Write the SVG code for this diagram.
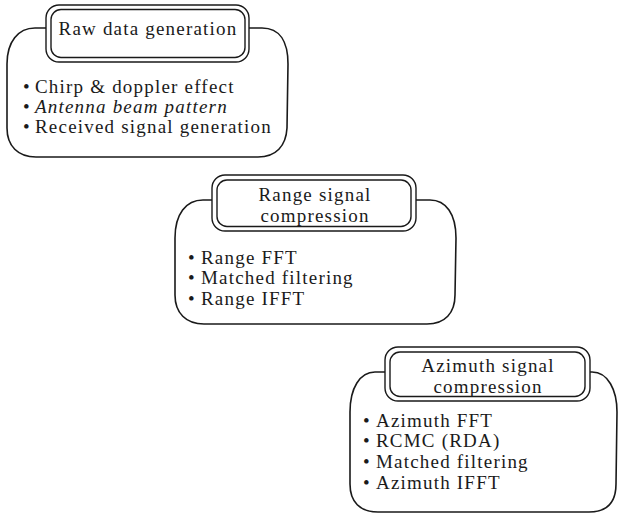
<svg xmlns="http://www.w3.org/2000/svg" width="619" height="518" viewBox="0 0 619 518">
<style>
.outer{fill:none;stroke:#1a1a1a;stroke-width:1.6}
.tb{fill:#fff;stroke:#1a1a1a;stroke-width:1.4}
.tbi{fill:none;stroke:#1a1a1a;stroke-width:1.4}
text{font-family:"Liberation Serif","Times New Roman",serif;font-size:19px;fill:#1a1a1a;letter-spacing:1.2px}
.t{text-anchor:middle}
.it{font-style:italic}
</style>
<rect width="619" height="518" fill="#fff"/>
<g id="raw">
<path class="outer" d="M35,28 C18,28 7,42 7,64 L7,128 C7,146 18,157 36,157 L258,157 C276,157 286,146 287,128 L288,64 C288,42 280,28 262,28 Z"/>
<rect class="tb" x="46" y="5" width="203" height="57" rx="13"/>
<rect class="tbi" x="51" y="9.5" width="194" height="48" rx="10"/>
<text class="t" x="148" y="35">Raw data generation</text>
<text x="23" y="93">•</text><text x="35" y="93">Chirp &amp; doppler effect</text>
<text x="23" y="113">•</text><text class="it" x="35" y="113">Antenna beam pattern</text>
<text x="23" y="133">•</text><text x="35" y="133">Received signal generation</text>
</g>
<g id="range">
<path class="outer" d="M203,200 C186,200 175,214 175,238 L175,295 C175,313 186,324 204,324 L427,324 C445,324 455,313 455,295 L456,238 C456,214 446,200 430,200 Z"/>
<rect class="tb" x="212" y="175" width="204" height="56" rx="13"/>
<rect class="tbi" x="217" y="180" width="194" height="46.5" rx="10"/>
<text class="t" x="315" y="201">Range signal</text>
<text class="t" x="315" y="222">compression</text>
<text x="188" y="264">•</text><text x="201" y="264">Range FFT</text>
<text x="188" y="284">•</text><text x="201" y="284">Matched filtering</text>
<text x="188" y="305">•</text><text x="201" y="305">Range IFFT</text>
</g>
<g id="azimuth">
<path class="outer" d="M375,372 C360,372 350,388 350,412 L350,484 C350,502 360,512 378,512 L589,512 C607,512 616,502 616,484 L617,412 C617,390 608,372 592,372 Z"/>
<rect class="tb" x="385" y="347" width="205" height="54" rx="13"/>
<rect class="tbi" x="390" y="352" width="195" height="44.5" rx="10"/>
<text class="t" x="488" y="372">Azimuth signal</text>
<text class="t" x="488" y="393">compression</text>
<text x="363" y="427">•</text><text x="376" y="427">Azimuth FFT</text>
<text x="363" y="447">•</text><text x="376" y="447">RCMC (RDA)</text>
<text x="363" y="468">•</text><text x="376" y="468">Matched filtering</text>
<text x="363" y="489">•</text><text x="376" y="489">Azimuth IFFT</text>
</g>
<g id="connectors"></g>
</svg>
